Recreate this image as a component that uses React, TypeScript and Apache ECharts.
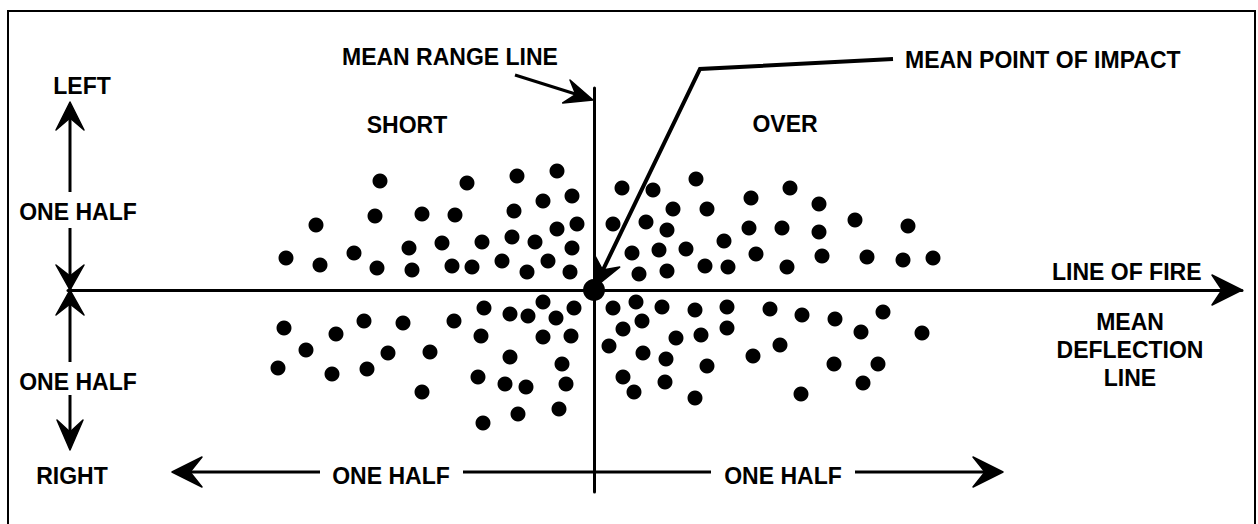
import React, { useEffect, useRef } from "react";
import * as echarts from "echarts";

// Impact points as [range deviation, deflection deviation] relative to the mean point of impact
const shortLeft: number[][] = [
  [-214, 109], [-127, 107], [-77, 114], [-37, 119], [-22, 94], [-51, 89], [-80, 79], [-139, 75],
  [-172, 76], [-219, 74], [-278, 65], [-17, 66], [-37, 61], [-82, 53], [-59, 48], [-112, 48],
  [-152, 47], [-185, 42], [-240, 37], [-308, 32], [-274, 25], [-217, 22], [-182, 20], [-142, 24],
  [-122, 23], [-92, 29], [-67, 18], [-46, 29], [-22, 42], [-24, 18],
];
const overLeft: number[][] = [
  [28, 102], [59, 100], [102, 111], [157, 92], [196, 102], [225, 86], [79, 81], [113, 81],
  [19, 66], [52, 68], [73, 60], [155, 62], [188, 62], [225, 58], [261, 70], [314, 64],
  [130, 49], [38, 37], [65, 40], [92, 41], [162, 36], [228, 34], [273, 33], [309, 30],
  [339, 32], [45, 16], [73, 19], [111, 24], [134, 23], [193, 23],
];
const shortRight: number[][] = [
  [-110, -18], [-84, -24], [-66, -26], [-51, -12], [-38, -28], [-20, -18], [-310, -38], [-258, -44],
  [-230, -31], [-191, -33], [-140, -31], [-113, -46], [-51, -47], [-23, -46], [-288, -60], [-206, -63],
  [-164, -62], [-84, -67], [-316, -78], [-262, -84], [-227, -79], [-32, -74], [-116, -87], [-89, -94],
  [-68, -97], [-28, -94], [-172, -102], [-35, -119], [-76, -124], [-111, -133],
];
const overRight: number[][] = [
  [19, -18], [42, -12], [68, -17], [101, -20], [133, -17], [176, -19], [208, -25], [241, -29],
  [289, -22], [29, -39], [48, -31], [82, -48], [107, -45], [133, -38], [267, -42], [328, -43],
  [15, -56], [49, -63], [72, -69], [113, -76], [159, -66], [186, -55], [240, -74], [284, -74],
  [29, -87], [71, -92], [40, -102], [101, -108], [207, -104], [269, -93],
];
const meanPointOfImpact: number[][] = [[0, 0]];

const FONT = { fontFamily: "'Liberation Sans', Arial, sans-serif", fontWeight: "bold", fontSize: 23 };

function arrowHead(tx: number, ty: number, fx: number, fy: number, len: number, half: number, notch: number) {
  const dx = tx - fx, dy = ty - fy;
  const n = Math.sqrt(dx * dx + dy * dy);
  const ux = dx / n, uy = dy / n;
  const px = -uy, py = ux;
  const bx = tx - ux * len, by = ty - uy * len;
  return {
    type: "polygon",
    z: 20,
    shape: {
      points: [
        [tx, ty],
        [bx + px * half, by + py * half],
        [tx - ux * notch, ty - uy * notch],
        [bx - px * half, by - py * half],
      ],
    },
    style: { fill: "#000", stroke: "#000", lineWidth: 1.5, lineJoin: "round" },
  };
}

function line(x1: number, y1: number, x2: number, y2: number, w = 3) {
  return { type: "line", z: 20, shape: { x1, y1, x2, y2 }, style: { stroke: "#000", lineWidth: w } };
}

function label(text: string, x: number, y: number, align = "center", lineHeight = 28) {
  return {
    type: "text",
    z: 30,
    x,
    y,
    style: { text, fill: "#000", align, verticalAlign: "middle", lineHeight, ...FONT },
  };
}

export default function App() {
  const ref = useRef<HTMLDivElement>(null);
  useEffect(() => {
    if (!ref.current) return;
    const chart = echarts.init(ref.current, null, { renderer: "svg" });
    const dotSeries = (name: string, data: number[][]) => ({
      name,
      type: "scatter",
      data,
      symbol: "circle",
      symbolSize: 15,
      itemStyle: { color: "#000", opacity: 1 },
      silent: true,
    });
    chart.setOption({
      animation: false,
      backgroundColor: "#fff",
      grid: { left: 68, right: 16, top: 88, bottom: 32 },
      xAxis: {
        type: "value",
        min: -526,
        max: 648,
        axisLine: { show: true, onZero: true, lineStyle: { color: "#000", width: 3 } },
        axisTick: { show: false },
        axisLabel: { show: false },
        splitLine: { show: false },
      },
      yAxis: {
        type: "value",
        min: -202,
        max: 202,
        axisLine: { show: true, onZero: true, lineStyle: { color: "#000", width: 3 } },
        axisTick: { show: false },
        axisLabel: { show: false },
        splitLine: { show: false },
      },
      series: [
        dotSeries("Short, left", shortLeft),
        dotSeries("Over, left", overLeft),
        dotSeries("Short, right", shortRight),
        dotSeries("Over, right", overRight),
        {
          name: "Mean point of impact",
          type: "scatter",
          data: meanPointOfImpact,
          symbol: "circle",
          symbolSize: 22,
          itemStyle: { color: "#000", opacity: 1 },
          z: 5,
          silent: true,
        },
      ],
      graphic: {
        elements: [
          { type: "rect", z: 10, shape: { x: 8, y: 11, width: 1247, height: 530 }, style: { fill: "none", stroke: "#000", lineWidth: 2 } },
          // line of fire arrowhead
          arrowHead(1242, 290, 1100, 290, 30, 15, 20),
          // left / right vertical arrows
          line(70, 110, 70, 192),
          arrowHead(70, 102, 70, 200, 28, 14, 16),
          line(70, 228, 70, 362),
          arrowHead(70, 290, 70, 200, 25, 14, 14),
          arrowHead(70, 290, 70, 380, 25, 14, 14),
          line(70, 395, 70, 442),
          arrowHead(70, 450, 70, 400, 30, 13, 18),
          // bottom horizontal arrows
          line(180, 472, 320, 472),
          arrowHead(172, 472, 300, 472, 30, 15, 18),
          line(463, 472, 711, 472),
          line(855, 472, 995, 472),
          arrowHead(1003, 472, 900, 472, 30, 15, 18),
          // mean range line pointer
          line(515, 75, 585, 97),
          arrowHead(593, 100, 515, 75, 28, 12, 18),
          // mean point of impact leader
          { type: "polyline", z: 20, shape: { points: [[600, 276], [700, 69], [893, 59]] }, style: { stroke: "#000", lineWidth: 4, fill: "none" } },
          arrowHead(594, 288, 700, 69, 30, 14, 20),
          // texts
          label("MEAN RANGE LINE", 342, 57, "left"),
          label("MEAN POINT OF IMPACT", 905, 60, "left"),
          label("LEFT", 82, 86),
          label("SHORT", 407, 125),
          label("OVER", 785, 124),
          label("ONE HALF", 78, 212),
          label("ONE HALF", 78, 382),
          label("RIGHT", 72, 476),
          label("LINE OF FIRE", 1052, 272, "left"),
          label("MEAN\nDEFLECTION\nLINE", 1130, 350),
          label("ONE HALF", 391, 476),
          label("ONE HALF", 783, 476),
        ],
      },
    });
    return () => chart.dispose();
  }, []);
  return <div ref={ref} style={{ position: "fixed", left: 0, top: 0, width: 1258, height: 524 }} />;
}
